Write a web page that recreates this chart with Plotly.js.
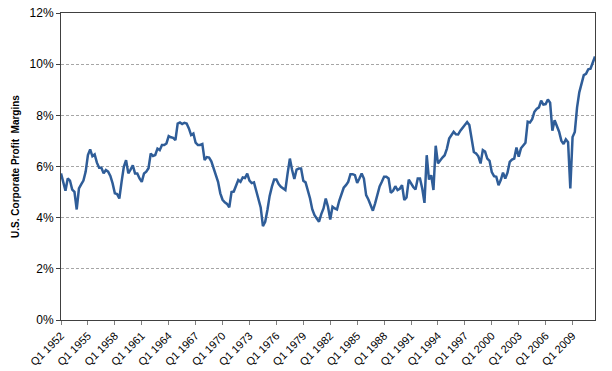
<!DOCTYPE html>
<html>
<head>
<meta charset="utf-8">
<script src="https://cdn.plot.ly/plotly-3.0.1.min.js"></script>
<style>html,body{margin:0;padding:0;background:#fff;}#chart{width:612px;height:371px;}</style>
</head>
<body>
<div id="chart"></div>
<script>
// Quarterly U.S. corporate profit margins (%), Q1 1952 .. Q3 2011
const startYear = 1952;
const margins1950s = [5.73,5.40,5.05,5.53,5.45,5.10,5.01,4.32,5.14,5.30,5.45,5.80,6.45,6.67,6.40,6.47,6.15,5.95,5.95,5.73,5.86,5.80,5.63,5.34,4.95,4.92,4.75,5.40,5.99,6.25,5.73,5.88];
const margins1960s = [6.05,5.73,5.73,5.53,5.40,5.73,5.80,5.93,6.51,6.41,6.45,6.70,6.64,6.84,6.84,6.90,7.19,7.14,7.12,7.03,7.68,7.72,7.66,7.71,7.68,7.49,7.23,7.29,6.93,6.84,6.84,6.88,6.25,6.37,6.35,6.20,5.90,5.68,5.40,4.95];
const margins1970s = [4.70,4.60,4.54,4.40,5.00,5.02,5.25,5.47,5.40,5.57,5.55,5.72,5.45,5.35,5.38,5.05,4.70,4.40,3.67,3.84,4.30,4.85,5.21,5.49,5.49,5.31,5.21,5.14,5.08,5.73,6.31,5.86,5.51,5.88,5.92,5.92,5.44,5.38,5.08,4.75];
const margins1980s = [4.32,4.10,3.97,3.84,4.14,4.36,4.75,4.43,3.93,4.43,4.36,4.32,4.66,4.95,5.17,5.27,5.40,5.70,5.70,5.66,5.36,5.53,5.73,5.53,4.88,4.71,4.49,4.27,4.56,4.95,5.22,5.40,5.60,5.60,5.53,4.97,5.05,5.23,5.08,5.13];
const margins1990s = [5.27,4.69,4.79,5.49,5.34,5.20,5.10,5.53,5.53,5.14,4.58,6.44,5.49,5.66,5.08,6.81,6.12,6.25,6.35,6.44,6.70,7.09,7.25,7.36,7.26,7.25,7.40,7.53,7.64,7.74,7.62,7.03,6.57,6.51,6.40,6.12,6.64,6.58,6.31,6.22];
const margins2000s = [5.78,5.62,5.60,5.27,5.47,5.76,5.53,5.76,6.18,6.27,6.31,6.74,6.38,6.71,6.84,6.93,7.75,7.72,7.85,8.14,8.25,8.31,8.57,8.42,8.44,8.62,8.49,7.40,7.81,7.58,7.36,7.01,6.88,7.06,6.95,5.14,7.15,7.35,8.30,8.90];
const margins2010s = [9.25,9.57,9.62,9.80,9.82,10.10,10.30];
const tickLabels = ["Q1 1952","Q1 1955","Q1 1958","Q1 1961","Q1 1964","Q1 1967","Q1 1970","Q1 1973","Q1 1976","Q1 1979","Q1 1982","Q1 1985","Q1 1988","Q1 1991","Q1 1994","Q1 1997","Q1 2000","Q1 2003","Q1 2006","Q1 2009"];
const yTicks = [0,2,4,6,8,10,12];
const yTickLabels = ["0%","2%","4%","6%","8%","10%","12%"];

const margins = [].concat(margins1950s, margins1960s, margins1970s, margins1980s, margins1990s, margins2000s, margins2010s);
const quarters = margins.map((_, i) => "Q" + (i % 4 + 1) + " " + (startYear + Math.floor(i / 4)));

const trace = {
  x: quarters, y: margins, type: 'scatter', mode: 'lines',
  line: {color: '#2F5D98', width: 2.5},
  hoverinfo: 'skip'
};

const layout = {
  width: 612, height: 371,
  margin: {l: 61, r: 17, t: 13, b: 51},
  paper_bgcolor: '#fff', plot_bgcolor: '#fff',
  showlegend: false,
  font: {family: 'Liberation Sans, Arial, sans-serif', size: 11, color: '#000'},
  xaxis: {
    type: 'category',
    range: [0, quarters.length - 1],
    tickmode: 'array',
    tickvals: tickLabels,
    ticktext: tickLabels,
    tickangle: -45,
    ticks: 'outside', ticklen: 4, tickcolor: '#808080',
    showgrid: false, zeroline: false,
    showline: true, linecolor: '#404040', linewidth: 1, mirror: true,
    tickfont: {size: 11}
  },
  yaxis: {
    range: [0, 12],
    tickmode: 'array', tickvals: yTicks, ticktext: yTickLabels,
    ticks: 'outside', ticklen: 4, tickcolor: '#404040',
    showgrid: true, gridcolor: '#a6a6a6', griddash: '3px,2px', gridwidth: 1,
    zeroline: false,
    showline: true, linecolor: '#404040', linewidth: 1, mirror: true,
    tickfont: {size: 12},
    title: {text: 'U.S. Corporate Profit  Margins', font: {size: 10, family: 'Liberation Sans, Arial, sans-serif', weight: 'bold'}, standoff: 8}
  }
};

Plotly.newPlot('chart', [trace], layout, {staticPlot: true, displayModeBar: false});
</script>
</body>
</html>
